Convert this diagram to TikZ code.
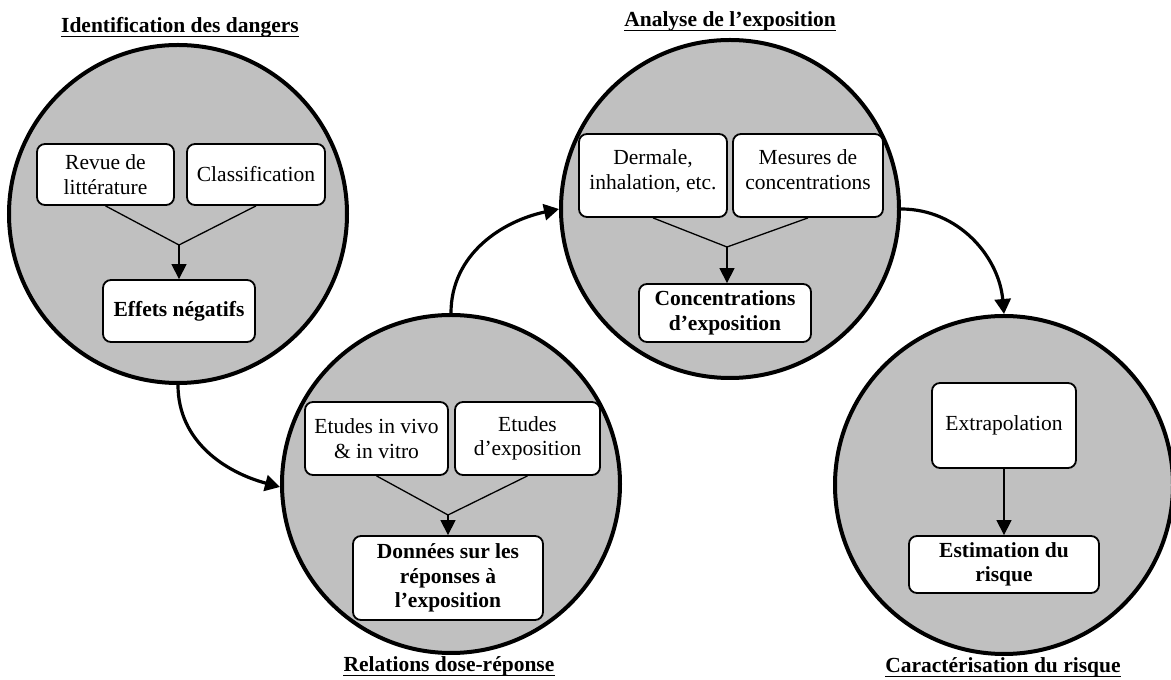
\documentclass[tikz,border=0pt]{standalone}
\usepackage{fontspec}
\setmainfont{Liberation Serif}
\usepackage{tikz}
\usetikzlibrary{arrows.meta, positioning, calc}
\definecolor{discgray}{RGB}{192,192,192}

\begin{document}
\begin{tikzpicture}[x=1pt, y=1pt, >={Triangle[width=15pt,length=15pt]}]
  \tikzstyle{stage} = [circle, draw, line width=4pt, fill=discgray, minimum size=338pt, inner sep=0pt]
  \tikzstyle{source} = [rectangle, draw, line width=1.8pt, fill=white, rounded corners=8pt, align=center, inner sep=0pt, font=\fontsize{21.5}{24.5}\selectfont]
  \tikzstyle{result} = [source, font=\fontsize{21.5}{24.5}\selectfont\bfseries]
  \tikzstyle{heading} = [inner sep=0pt, anchor=base, font=\fontsize{21.5}{24.5}\selectfont\bfseries]
  \tikzstyle{flow} = [->, line width=3.2pt, >={Triangle[width=16pt,length=15pt]}]
  \tikzstyle{feed} = [line width=1.3pt]

  \useasboundingbox (0,0) rectangle (1171,680);

  % the four stages
  \node [stage] (danger) at (178,466) {};
  \node [stage] (dose) at (451,196) {};
  \node [stage] (expo) at (730,471) {};
  \node [stage] (risk) at (1004,195) {};

  \node [heading] (t1) at (180,647) {Identification des dangers};
  \node [heading] (t2) at (449,8) {Relations dose-réponse};
  \node [heading] (t3) at (730,653) {Analyse de l’exposition};
  \node [heading] (t4) at (1003,7) {Caractérisation du risque};
  \foreach \t in {t1,t2,t3,t4}
    \draw [line width=1.7pt] ([yshift=-3.5pt]\t.base west) -- ([yshift=-3.5pt]\t.base east);

  % identification
  \node [source, minimum width=137pt, minimum height=61pt] (rev) at (105.5,505.5) {Revue de\\littérature};
  \node [source, minimum width=138pt, minimum height=61pt] (cls) at (256,505.5) {Classification};
  \node [result, minimum width=152pt, minimum height=62pt] (neg) at (179,369) {Effets négatifs};
  \coordinate (j1) at (179,435);

  % dose-response
  \node [source, minimum width=143pt, minimum height=73pt] (vivo) at (376.5,241.5) {Etudes in vivo\\\& in vitro};
  \node [source, minimum width=145pt, minimum height=73pt] (etu) at (527.5,241.5) {Etudes\\d’exposition};
  \node [result, minimum width=190pt, minimum height=84pt] (don) at (448,102) {Données sur les\\réponses à\\l’exposition};
  \coordinate (j2) at (448,165);

  % exposure
  \node [source, minimum width=148pt, minimum height=83pt] (derm) at (653,504.5) {Dermale,\\inhalation, etc.\\[-12.5pt]};
  \node [source, minimum width=150pt, minimum height=83pt] (mes) at (808,504.5) {Mesures de\\concentrations\\[-12.5pt]};
  \node [result, minimum width=172pt, minimum height=58pt] (conc) at (725,367) {Concentrations\\d’exposition};
  \coordinate (j3) at (727,433);

  % risk
  \node [source, minimum width=144pt, minimum height=85pt] (ext) at (1004,254.5) {Extrapolation};
  \node [result, minimum width=190pt, minimum height=57pt] (est) at (1004,115.5) {Estimation du\\risque};

  \draw [feed] (rev.south) -- (j1) -- (cls.south);
  \draw [feed, ->] (j1) -- (j1 |- neg.north);
  \draw [feed] (vivo.south) -- (j2) -- (etu.south);
  \draw [feed, ->] (j2) -- (j2 |- don.north);
  \draw [feed] (derm.south) -- (j3) -- (mes.south);
  \draw [feed, ->] (j3) -- (j3 |- conc.north);
  \draw [feed, ->] (ext) -- (est);

  % links between stages
  \draw [flow] (danger.south) to[out=-90, in=165] (dose.181);
  \draw [flow] (dose.north) to[out=90, in=192] (expo.west);
  \draw [flow] (expo.east) to[out=0, in=95] (risk.north);
\end{tikzpicture}
\end{document}
